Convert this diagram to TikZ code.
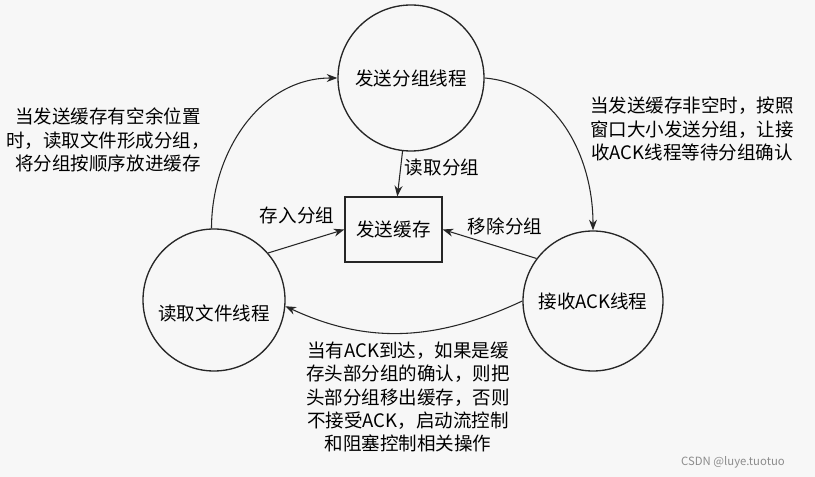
\documentclass[tikz,border=0pt]{standalone}
\usepackage{fontspec}
\setmainfont{Noto Sans CJK SC}
\usetikzlibrary{arrows.meta}
\begin{document}
\begin{tikzpicture}[x=0.75pt,y=-0.75pt,
  font=\fontsize{13.9}{17.4}\selectfont,
  thread/.style={draw=black!85,line width=1pt,circle,inner sep=0pt},
  buffer/.style={draw=black!85,line width=1pt,rectangle,minimum width=72.75pt,minimum height=48.75pt},
  flow/.style={draw=black!85,line width=0.8pt,-{Stealth[length=8pt,width=6pt]}},
  note/.style={align=center,inner sep=0pt}]
  \useasboundingbox (0,0) rectangle (815,477);
  \fill[black!3] (0,0) rectangle (815,477);
  % threads and the buffer
  \node[thread,minimum size=109.5pt] (snd) at (411,78) {发送分组线程};
  \node[thread,minimum size=106.5pt,label={[yshift=-9.75pt]center:读取文件线程}] (rd) at (214,300) {};
  \node[thread,minimum size=105pt] (ack) at (593,301) {接收ACK线程};
  \node[buffer] (buf) at (393.5,229.5) {发送缓存};
  % curved flows between threads
  \draw[flow] (rd.92) to[out=90,in=180] (snd.west);
  \draw[flow] (snd.east) to[out=-5,in=90] (ack.north);
  \draw[flow] (ack.west) to[out=205,in=-25] (rd.-5);
  % flows to the buffer
  \draw[flow] (snd) -- (buf);
  \draw[flow] (rd.41) -- (buf.west);
  \draw[flow] (ack.143) -- (buf.east);
  \node[note] (lread) at (442,168) {读取分组};
  \node[note] (lput) at (297,215) {存入分组};
  \node[note] (lrem) at (505,226) {移除分组};
  % explanations
  \node[note] (nrd) at (108,140) {当发送缓存有空余位置\\时，读取文件形成分组，\\将分组按顺序放进缓存};
  \node[note] (nsnd) at (692,129) {当发送缓存非空时，按照\\窗口大小发送分组，让接\\收ACK线程等待分组确认};
  \node[note] (nack) at (408,397) {当有ACK到达，如果是缓\\存头部分组的确认，则把\\头部分组移出缓存，否则\\不接受ACK，启动流控制\\和阻塞控制相关操作};
  \node[note,text=black!45,font=\fontsize{8.5}{10}\selectfont] (mark) at (733,462) {CSDN @luye.tuotuo};
\end{tikzpicture}
\end{document}
